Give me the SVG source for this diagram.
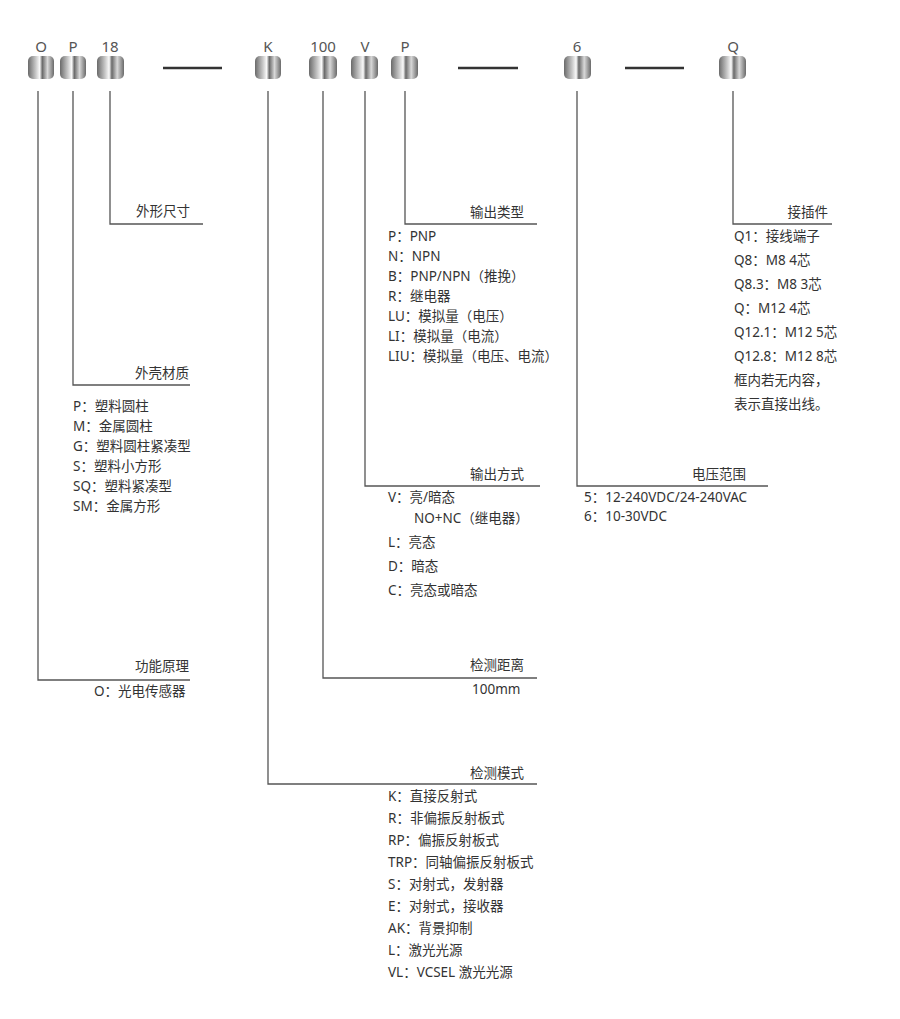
<svg xmlns="http://www.w3.org/2000/svg" width="900" height="1019" viewBox="0 0 900 1019">
<defs>
<linearGradient id="g" x1="0" x2="1" y1="0" y2="0">
<stop offset="0" stop-color="#6a6a6a"/><stop offset="0.3" stop-color="#c8c8c8"/><stop offset="0.45" stop-color="#fafafa"/><stop offset="0.55" stop-color="#6a6a6a"/><stop offset="0.75" stop-color="#d8d8d8"/><stop offset="1" stop-color="#6a6a6a"/>
</linearGradient>
</defs>
<style>
text{font-family:"Noto Sans","Noto Sans CJK SC",sans-serif;font-size:13.5px;fill:#333}
.h{font-size:15px;fill:#555}
.b{fill:url(#g)}
.l{fill:none;stroke:#555;stroke-width:1.3}
.d{stroke:#333;stroke-width:2.5}
.r{text-anchor:end}
.m{text-anchor:middle}
</style>
<g id="header">
<text class="h m" x="41" y="52">O</text><rect class="b" x="28" y="56" width="26" height="23" rx="5"/>
<text class="h m" x="73" y="52">P</text><rect class="b" x="60" y="56" width="26" height="23" rx="5"/>
<text class="h m" x="110" y="52">18</text><rect class="b" x="97" y="56" width="27" height="23" rx="5"/>
<line class="d" x1="163" y1="68" x2="222" y2="68"/>
<text class="h m" x="268" y="52">K</text><rect class="b" x="255" y="56" width="26" height="23" rx="5"/>
<text class="h m" x="323" y="52">100</text><rect class="b" x="309" y="56" width="28" height="23" rx="5"/>
<text class="h m" x="365" y="52">V</text><rect class="b" x="351" y="56" width="27" height="23" rx="5"/>
<text class="h m" x="405" y="52">P</text><rect class="b" x="391" y="56" width="27" height="23" rx="5"/>
<line class="d" x1="458" y1="68" x2="518" y2="68"/>
<text class="h m" x="577" y="52">6</text><rect class="b" x="564" y="56" width="27" height="23" rx="5"/>
<line class="d" x1="625" y1="68" x2="684" y2="68"/>
<text class="h m" x="733" y="52">Q</text><rect class="b" x="719" y="56" width="27" height="23" rx="5"/>
</g>
<g id="connectors">
<polyline class="l" points="38,91 38,680 190,680"/>
<polyline class="l" points="73,91 73,385 190,385"/>
<polyline class="l" points="110,91 110,224 203,224"/>
<polyline class="l" points="268,91 268,784 537,784"/>
<polyline class="l" points="323,91 323,678 537,678"/>
<polyline class="l" points="365,91 365,486 540,486"/>
<polyline class="l" points="405,91 405,224 537,224"/>
<polyline class="l" points="577,91 577,486 768,486"/>
<polyline class="l" points="733,91 733,224 832,224"/>
</g>
<g id="n-size"><text class="r" x="190" y="216">外形尺寸</text></g>
<g id="n-material"><text class="r" x="189" y="378">外壳材质</text>
<text x="73" y="411">P：塑料圆柱</text><text x="73" y="431">M：金属圆柱</text><text x="73" y="451">G：塑料圆柱紧凑型</text><text x="73" y="471">S：塑料小方形</text><text x="73" y="491">SQ：塑料紧凑型</text><text x="73" y="511">SM：金属方形</text></g>
<g id="n-principle"><text class="r" x="189" y="671">功能原理</text><text x="94" y="696">O：光电传感器</text></g>
<g id="n-output"><text class="r" x="524" y="217">输出类型</text>
<text x="388" y="241">P：PNP</text><text x="388" y="261">N：NPN</text><text x="388" y="281">B：PNP/NPN（推挽）</text><text x="388" y="301">R：继电器</text><text x="388" y="321">LU：模拟量（电压）</text><text x="388" y="341">LI：模拟量（电流）</text><text x="388" y="361">LIU：模拟量（电压、电流）</text></g>
<g id="n-outmode"><text class="r" x="524" y="479">输出方式</text>
<text x="388" y="502">V：亮/暗态</text><text x="414" y="523">NO+NC（继电器）</text><text x="388" y="547">L：亮态</text><text x="388" y="571">D：暗态</text><text x="388" y="595">C：亮态或暗态</text></g>
<g id="n-distance"><text class="r" x="524" y="670">检测距离</text><text x="472" y="694">100mm</text></g>
<g id="n-mode"><text class="r" x="524" y="778">检测模式</text>
<text x="388" y="801">K：直接反射式</text><text x="388" y="823">R：非偏振反射板式</text><text x="388" y="845">RP：偏振反射板式</text><text x="388" y="867">TRP：同轴偏振反射板式</text><text x="388" y="889">S：对射式，发射器</text><text x="388" y="911">E：对射式，接收器</text><text x="388" y="933">AK：背景抑制</text><text x="388" y="955">L：激光光源</text><text x="388" y="977">VL：VCSEL 激光光源</text></g>
<g id="n-voltage"><text class="r" x="746" y="479">电压范围</text>
<text x="584" y="502">5：12-240VDC/24-240VAC</text><text x="584" y="521">6：10-30VDC</text></g>
<g id="n-connector"><text class="r" x="828" y="217">接插件</text>
<text x="734" y="241">Q1：接线端子</text><text x="734" y="265">Q8：M8 4芯</text><text x="734" y="289">Q8.3：M8 3芯</text><text x="734" y="313">Q：M12 4芯</text><text x="734" y="337">Q12.1：M12 5芯</text><text x="734" y="361">Q12.8：M12 8芯</text><text x="734" y="385">框内若无内容，</text><text x="734" y="409">表示直接出线。</text></g>
</svg>
